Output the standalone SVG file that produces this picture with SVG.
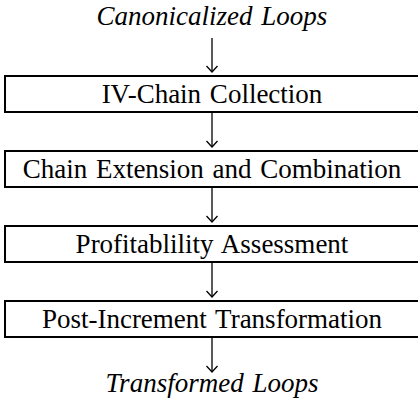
<svg xmlns="http://www.w3.org/2000/svg" width="418" height="411" viewBox="0 0 418 411">
  <style>
    .box { fill: #ffffff; stroke: #000000; stroke-width: 2; }
    .edge { fill: none; stroke: #000000; stroke-width: 1.3; }
    .label { font-family: 'Liberation Serif', 'Times New Roman', serif; font-size: 27px; word-spacing: 2px; fill: #000000; text-anchor: middle; }
    .io { font-style: italic; }
  </style>
  <defs>
    <!-- open chevron head pointing along +x -->
    <marker id="head" viewBox="0 0 10 12" refX="9" refY="6" markerWidth="10" markerHeight="12" markerUnits="userSpaceOnUse" orient="auto">
      <path d="M3,0.5 L9,6 L3,11.5" fill="none" stroke="#000000" stroke-width="1.3"/>
    </marker>
  </defs>
  <rect width="418" height="411" fill="#ffffff"/>

  <g id="input">
    <text class="label io" x="212" y="25">Canonicalized Loops</text>
  </g>

  <g id="connectors">
    <line class="edge" x1="212" y1="38" x2="212" y2="72" marker-end="url(#head)"/>
    <line class="edge" x1="212" y1="112" x2="212" y2="147" marker-end="url(#head)"/>
    <line class="edge" x1="212" y1="187" x2="212" y2="222" marker-end="url(#head)"/>
    <line class="edge" x1="212" y1="262" x2="212" y2="297" marker-end="url(#head)"/>
    <line class="edge" x1="212" y1="337" x2="212" y2="372" marker-end="url(#head)"/>
  </g>

  <g id="iv-chain-collection">
    <rect class="box" x="5" y="76" width="416" height="36"/>
    <text class="label" x="212" y="103">IV-Chain Collection</text>
  </g>

  <g id="chain-extension">
    <rect class="box" x="5" y="151" width="416" height="36"/>
    <text class="label" x="212" y="178">Chain Extension and Combination</text>
  </g>

  <g id="profitability">
    <rect class="box" x="5" y="226" width="416" height="36"/>
    <text class="label" x="212" y="253">Profitablility Assessment</text>
  </g>

  <g id="post-increment">
    <rect class="box" x="5" y="301" width="416" height="36"/>
    <text class="label" x="212" y="328">Post-Increment Transformation</text>
  </g>

  <g id="output">
    <text class="label io" x="212" y="392">Transformed Loops</text>
  </g>
</svg>
